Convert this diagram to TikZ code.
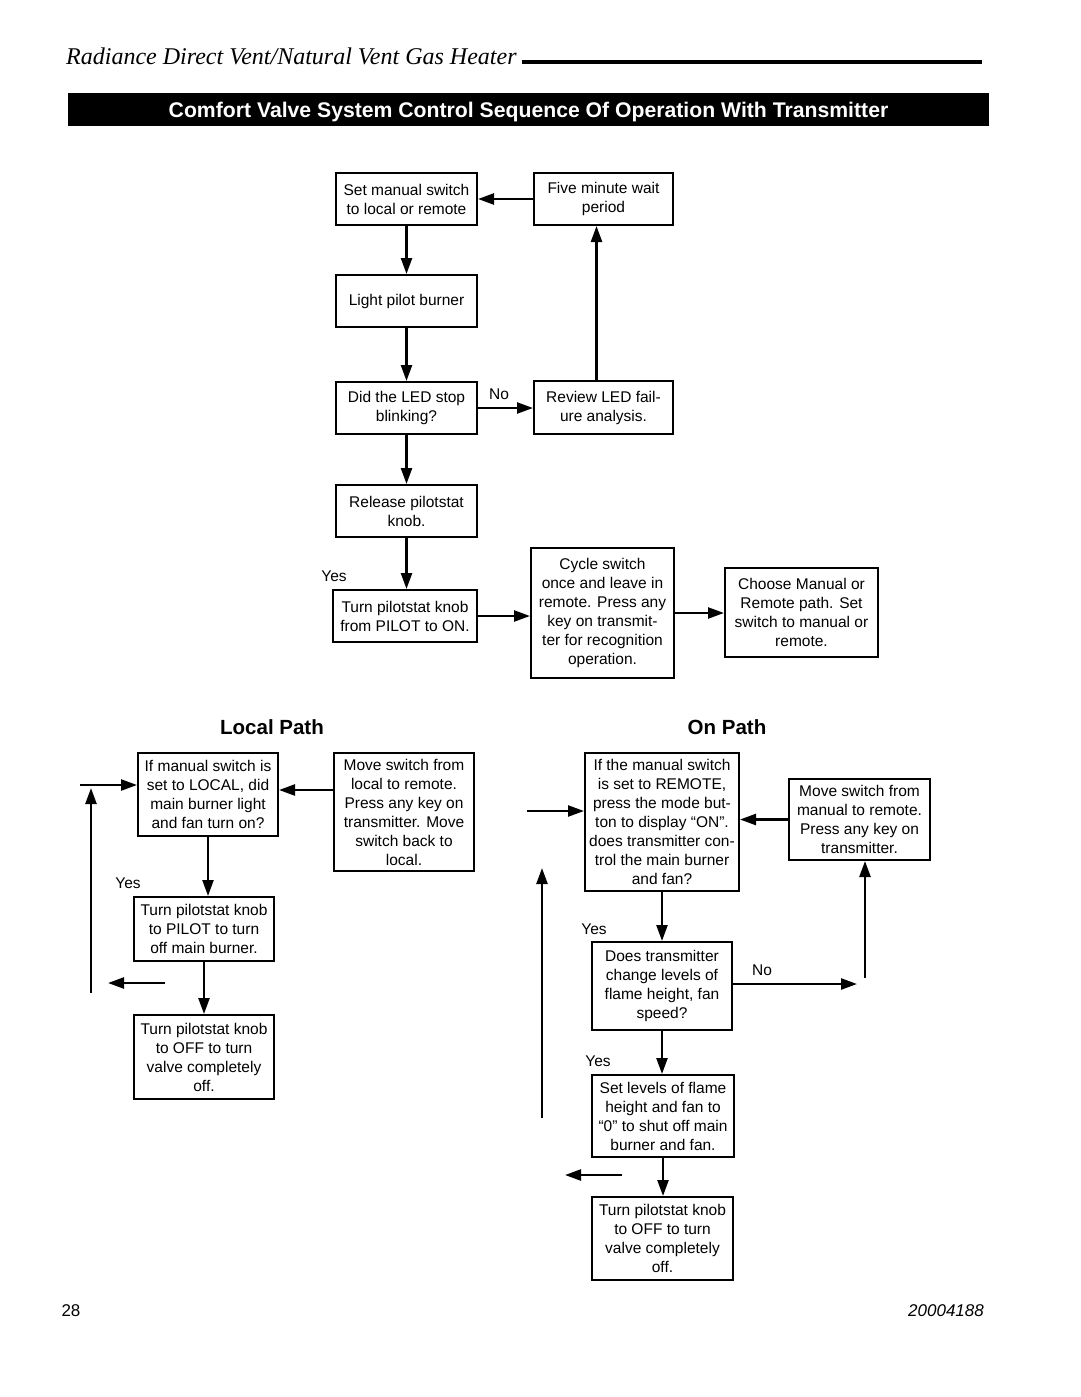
\documentclass[tikz,border=0pt]{standalone}
\usepackage{fontspec}
\setmainfont{Liberation Sans}
\newfontfamily\headfont{Liberation Serif}
\usetikzlibrary{arrows.meta}

\begin{document}
\begin{tikzpicture}[x=1pt,y=-1pt,
  box/.style={draw,line width=2pt,inner sep=0pt,align=center,
    font=\fontsize{15.5}{19}\selectfont},
  flow/.style={line width=2.4pt,-{Triangle[length=16pt,width=11pt]}},
  lbl/.style={font=\fontsize{15.5}{19}\selectfont},
  heading/.style={font=\fontsize{20.5}{24}\selectfont\bfseries}]
  \useasboundingbox[fill=white] (0,0) rectangle (1080,1397);

  % page header
  \node[anchor=base west,inner sep=0pt,font=\headfont\itshape\fontsize{24}{27}\selectfont]
    (title) at (66,65) {Radiance Direct Vent/Natural Vent Gas Heater};
  \draw[line width=4pt] ([xshift=5]title.east |- 0,62) -- (982,62);
  \node[fill=black,text=white,minimum width=921,minimum height=33,inner sep=0pt,
    text height=15pt,text depth=0pt,font=\bfseries\fontsize{21.2}{24}\selectfont]
    (banner) at (528.5,109.5) {Comfort Valve System Control Sequence Of Operation With Transmitter};

  % start sequence
  \node[box,minimum width=141,minimum height=52] (setsw) at (406.5,199) {Set manual switch\\to local or remote};
  \node[box,minimum width=139,minimum height=52] (wait) at (603.5,199) {Five minute wait\\period};
  \node[box,minimum width=141,minimum height=52] (light) at (406.5,301) {Light pilot burner};
  \node[box,minimum width=141,minimum height=52] (ledq) at (406.5,408) {Did the LED stop\\blinking?};
  \node[box,minimum width=139,minimum height=53] (review) at (603.5,407.5) {Review LED fail-\\ure analysis.};
  \node[box,minimum width=141,minimum height=52] (release) at (406.5,511) {Release pilotstat\\knob.};
  \node[box,minimum width=144,minimum height=52] (turnon) at (405,616) {Turn pilotstat knob\\from PILOT to ON.};
  \node[box,minimum width=143,minimum height=130] (cycle) at (602.5,613) {Cycle switch\\once and leave in\\remote. Press any\\key on transmit-\\ter for recognition\\operation.};
  \node[box,minimum width=153,minimum height=89] (choose) at (801.5,612.5) {Choose Manual or\\Remote path. Set\\switch to manual or\\remote.};

  \node[lbl] (ledno) at (499,394) {No};
  \node[lbl] (ledyes) at (334,576) {Yes};

  \draw[flow] (wait.west) -- (setsw.east);
  \draw[flow] (setsw.south) -- (light.north);
  \draw[flow] (light.south) -- (ledq.north);
  \draw[flow] (ledq.east) -- (ledq.east -| review.west);
  \draw[flow] ([xshift=-7]review.north) -- ([xshift=-7]wait.south);
  \draw[flow] (ledq.south) -- (release.north);
  \draw[flow] (release.south) -- (release.south |- turnon.north);
  \draw[flow] (turnon.east) -- (turnon.east -| cycle.west);
  \draw[flow] (cycle.east) -- (cycle.east -| choose.west);

  % local path
  \node[heading] (localhd) at (272,727) {Local Path};
  \node[box,minimum width=140,minimum height=83] (ifloc) at (208,794.5) {If manual switch is\\set to LOCAL, did\\main burner light\\and fan turn on?};
  \node[box,minimum width=140,minimum height=118] (movelr) at (404,812) {Move switch from\\local to remote.\\Press any key on\\transmitter. Move\\switch back to\\local.};
  \node[box,minimum width=140,minimum height=64] (pilotoff) at (204,929) {Turn pilotstat knob\\to PILOT to turn\\off main burner.};
  \node[box,minimum width=140,minimum height=84] (offloc) at (204,1057) {Turn pilotstat knob\\to OFF to turn\\valve completely\\off.};
  \node[lbl] (locyes) at (128,883) {Yes};

  \coordinate (lin) at (80,785);
  \coordinate (lback) at (91,993);
  \coordinate (lbacktop) at (91,788);
  \coordinate (lret) at (165,983);
  \coordinate (lretend) at (108,983);

  \draw[flow] (lin) -- (lin -| ifloc.west);
  \draw[flow] ([yshift=22]movelr.west) -- ([yshift=22]movelr.west -| ifloc.east);
  \draw[flow] (ifloc.south) -- (ifloc.south |- pilotoff.north);
  \draw[flow] (pilotoff.south) -- (offloc.north);
  \draw[flow] (lback) -- (lbacktop);
  \draw[flow] (lret) -- (lretend);

  % on path
  \node[heading] (onhd) at (727,727) {On Path};
  \node[box,minimum width=154,minimum height=138] (ifrem) at (662,822) {If the manual switch\\is set to REMOTE,\\press the mode but-\\ton to display “ON”.\\does transmitter con-\\trol the main burner\\and fan?};
  \node[box,minimum width=141,minimum height=81] (movemr) at (859.5,819.5) {Move switch from\\manual to remote.\\Press any key on\\transmitter.};
  \node[box,minimum width=140,minimum height=88] (levelq) at (662,986) {Does transmitter\\change levels of\\flame height, fan\\speed?};
  \node[box,minimum width=142,minimum height=82] (setzero) at (663,1116) {Set levels of flame\\height and fan to\\“0” to shut off main\\burner and fan.};
  \node[box,minimum width=141,minimum height=83] (offrem) at (662.5,1238.5) {Turn pilotstat knob\\to OFF to turn\\valve completely\\off.};
  \node[lbl] (remyes) at (594,929) {Yes};
  \node[lbl] (levno) at (762,970) {No};
  \node[lbl] (levyes) at (598,1061) {Yes};

  \coordinate (rin) at (527,811);
  \coordinate (rno) at (857,984);
  \coordinate (rup) at (865,978);
  \coordinate (rback) at (542,1118);
  \coordinate (rbacktop) at (542,868);
  \coordinate (rret) at (622,1175);
  \coordinate (rretend) at (565,1175);

  \draw[flow] (rin) -- (rin -| ifrem.west);
  \draw[flow] (movemr.west) -- (movemr.west -| ifrem.east);
  \draw[flow] (ifrem.south) -- (ifrem.south |- levelq.north);
  \draw[flow] (levelq.east |- rno) -- (rno);
  \draw[flow] (rup) -- (rup |- movemr.south);
  \draw[flow] (levelq.south) -- (levelq.south |- setzero.north);
  \draw[flow] (setzero.south) -- (setzero.south |- offrem.north);
  \draw[flow] (rback) -- (rbacktop);
  \draw[flow] (rret) -- (rretend);

  % page footer
  \node[font=\fontsize{17}{20}\selectfont] (pagenum) at (71,1311) {28};
  \node[font=\itshape\fontsize{17}{20}\selectfont] (docnum) at (946,1311) {20004188};
\end{tikzpicture}
\end{document}
